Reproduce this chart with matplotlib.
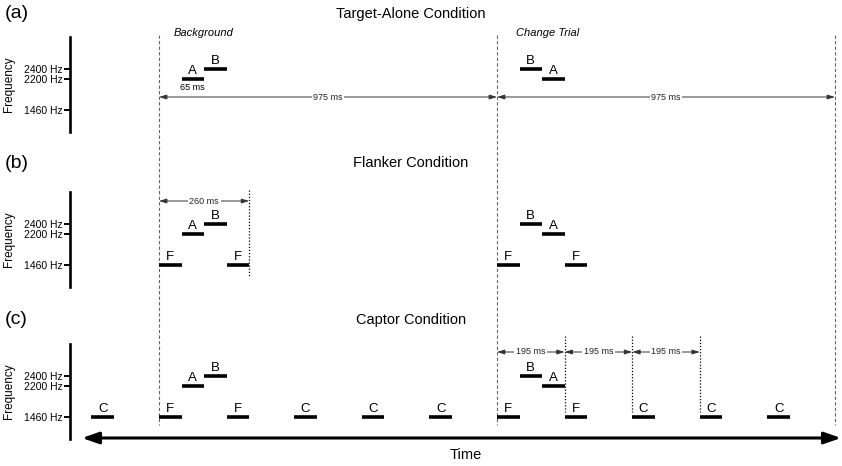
import numpy as np
import matplotlib
matplotlib.use("Agg")
import matplotlib.pyplot as plt

plt.rcParams["font.family"] = ["Liberation Sans", "DejaVu Sans"]

# ── Data ──────────────────────────────────────────────────────────────────────
tone_ms = 65          # tone duration
trial_ms = 975        # trial length
freq_ticks = [2400, 2200, 1460]
freq_labels = ["2400 Hz", "2200 Hz", "1460 Hz"]

a_names = ["A", "B", "B", "A"]
a_freqs = [2200, 2400, 2400, 2200]
a_onsets = [65, 130, 1040, 1105]

b_names = ["F", "A", "B", "F", "F", "B", "A", "F"]
b_freqs = [1460, 2200, 2400, 1460, 1460, 2400, 2200, 1460]
b_onsets = [0, 65, 130, 195, 975, 1040, 1105, 1170]

c_names = ["C", "F", "A", "B", "F", "C", "C", "C",
           "F", "B", "A", "F", "C", "C", "C"]
c_freqs = [1460, 1460, 2200, 2400, 1460, 1460, 1460, 1460,
           1460, 2400, 2200, 1460, 1460, 1460, 1460]
c_onsets = [-195, 0, 65, 130, 195, 390, 585, 780,
            975, 1040, 1105, 1170, 1365, 1560, 1755]

trial_starts = [0, 975, 1950]
flanker_end = [260]
captor_marks = [1170, 1365, 1560]
captor_step = 195

titles = ["Target-Alone Condition", "Flanker Condition", "Captor Condition"]
letters = ["(a)", "(b)", "(c)"]

# ── Layout helpers (pixels -> ms) ─────────────────────────────────────────────
W, H = 842, 466
k = trial_ms / 338.0          # ms per pixel
x0_px = 159                   # pixel of t = 0
def ms(px):
    return (px - x0_px) * k


# frequency axis is drawn unevenly spaced, as in the figure
def fwd(f):
    f = np.asarray(f, dtype=float)
    return np.where(f < 2200, (f - 1460) * 31 / 740,
                    np.where(f < 2400, 31 + (f - 2200) * 10 / 200,
                             41 + (f - 2400) * 10 / 200))


def inv(l):
    l = np.asarray(l, dtype=float)
    return np.where(l < 31, 1460 + l * 740 / 31,
                    np.where(l < 41, 2200 + (l - 31) * 20,
                             2400 + (l - 41) * 20))


fig = plt.figure(figsize=(W / 100, H / 100), dpi=100)

# overlay in ms / pixel rows
ov = fig.add_axes([0, 0, 1, 1])
ov.set_xlim(ms(0), ms(W))
ov.set_ylim(H, 0)
ov.axis("off")

for t in trial_starts:
    ov.plot([t, t], [35, 425], color="#666666", lw=0.8, ls=(0, (3, 2)))

panel_tops = [37, 192, 344]
title_y = [14, 163, 320]
panels = [(a_names, a_freqs, a_onsets),
          (b_names, b_freqs, b_onsets),
          (c_names, c_freqs, c_onsets)]

for i, (names, freqs, onsets) in enumerate(panels):
    top = panel_tops[i]
    ax = fig.add_axes([70 / W, 1 - (top + 95) / H, (W - 70) / W, 95 / H])
    ax.set_facecolor("none")
    ax.set_xlim(ms(70), ms(W))
    ax.set_yscale("function", functions=(fwd, inv))
    ax.set_ylim(inv(-22), inv(73))
    for s in ["top", "right", "bottom"]:
        ax.spines[s].set_visible(False)
    ax.spines["left"].set_linewidth(1.9)
    ax.set_xticks([])
    ax.set_yticks(freq_ticks)
    ax.set_yticklabels(freq_labels, fontsize=7.5)
    ax.tick_params(axis="y", length=4, width=1.4, pad=1)
    ax.minorticks_off()
    ax.set_ylabel("Frequency", fontsize=8.5)
    ax.yaxis.set_label_coords((15 - 70) / (W - 70), 0.5)

    for name, f, on in zip(names, freqs, onsets):
        ax.plot([on, on + tone_ms], [f, f], color="black", lw=2.6,
                solid_capstyle="butt")
        ax.annotate(name, (on + tone_ms / 2, f), xytext=(0, 1.5),
                    textcoords="offset points", ha="center", va="bottom",
                    fontsize=9.5)

    fig.text(411 / W, 1 - title_y[i] / H, titles[i], ha="center", va="center",
             fontsize=10.5)
    fig.text(5 / W, 1 - title_y[i] / H, letters[i], ha="left", va="center",
             fontsize=14)


def span_arrow(x1, x2, y, label, fs=6.5):
    ov.annotate("", xy=(x2, y), xytext=(x1, y),
                arrowprops=dict(arrowstyle="<|-|>,head_length=0.45,head_width=0.14",
                                color="#333333", lw=0.7, shrinkA=0, shrinkB=0))
    ov.text((x1 + x2) / 2, y, label, ha="center", va="center", fontsize=fs,
            color="#222222",
            bbox=dict(facecolor="white", edgecolor="none", pad=1.2))


# (a) annotations
ov.text(ms(204), 33, "Background", ha="center", va="center", fontsize=8, style="italic")
ov.text(ms(548), 33, "Change Trial", ha="center", va="center", fontsize=8, style="italic")
ov.text(a_onsets[0] + tone_ms / 2, 87, f"{tone_ms} ms", ha="center", va="center", fontsize=6.5)
for t1, t2 in zip(trial_starts[:-1], trial_starts[1:]):
    span_arrow(t1, t2, 97, f"{t2 - t1} ms")

# (b) flanker window
for t in flanker_end:
    ov.plot([t, t], [190, 276], color="black", lw=0.9, ls=(0, (1, 1.5)))
    span_arrow(0, t, 201, f"{t} ms")

# (c) captor windows
for t in captor_marks:
    ov.plot([t, t], [336, 412], color="black", lw=0.9, ls=(0, (1, 1.5)))
for t in [975] + captor_marks[:-1]:
    span_arrow(t, t + captor_step, 352, f"{captor_step} ms")

# time arrow
ov.annotate("", xy=(ms(841), 438), xytext=(ms(82), 438),
            arrowprops=dict(arrowstyle="<|-|>,head_length=1.0,head_width=0.35",
                            color="black", lw=2.2, shrinkA=0, shrinkB=0))
ov.text(ms(466), 455, "Time", ha="center", va="center", fontsize=10.5)

fig.savefig("out.png", dpi=100)
